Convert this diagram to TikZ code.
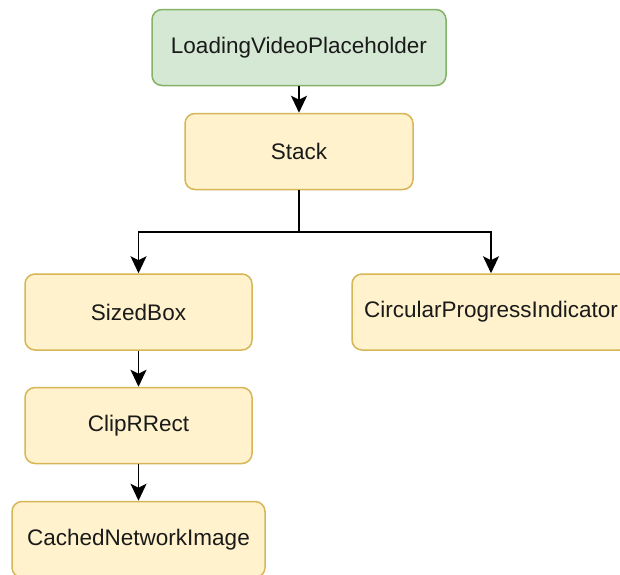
\documentclass[tikz,border=0pt]{standalone}
\usepackage{fontspec}
\setmainfont{Liberation Sans}
\usetikzlibrary{arrows.meta}
\definecolor{greenfill}{HTML}{D5E8D4}
\definecolor{greenline}{HTML}{82B366}
\definecolor{yellowfill}{HTML}{FFF2CC}
\definecolor{yellowline}{HTML}{D6B656}
\definecolor{labeltext}{HTML}{1A1A1A}
\tikzset{
  widget/.style={rectangle, rounded corners=10pt, line width=1.5pt,
    minimum height=76pt, inner sep=0pt, text=labeltext,
    font=\fontsize{22.5}{26}\selectfont},
  rootbox/.style={widget, fill=greenfill, draw=greenline},
  childbox/.style={widget, fill=yellowfill, draw=yellowline},
  link/.style={line width=1.8pt, black,
    -{Stealth[length=17pt, width=16pt, inset=4pt]}},
  plainlink/.style={line width=1.8pt, black}
}
\begin{document}
\begin{tikzpicture}[x=1pt, y=-1pt]
  \useasboundingbox (0,0) rectangle (620,574);
  \clip (0,0) rectangle (620,574);
  \fill[white] (0,0) rectangle (620,574);

  \node[rootbox, minimum width=294pt] (load) at (299,47.5) {LoadingVideoPlaceholder};
  \node[childbox, minimum width=228pt] (stack) at (299,151.5) {Stack};
  \node[childbox, minimum width=227pt] (sized) at (138.5,312) {SizedBox};
  \node[childbox, minimum width=278pt] (circ) at (491,312) {CircularProgressIndicator};
  \node[childbox, minimum width=227pt] (clip) at (138.5,425.5) {ClipRRect};
  \node[childbox, minimum width=253pt] (cached) at (138.5,539.5) {CachedNetworkImage};

  \coordinate (branch) at (299,232);

  \draw[link] (load) -- (stack);
  \draw[plainlink] (stack) -- (branch);
  \draw[link] (branch) -| (sized);
  \draw[link] (branch) -| (circ);
  \draw[link] (sized) -- (clip);
  \draw[link] (clip) -- (cached);
\end{tikzpicture}
\end{document}
